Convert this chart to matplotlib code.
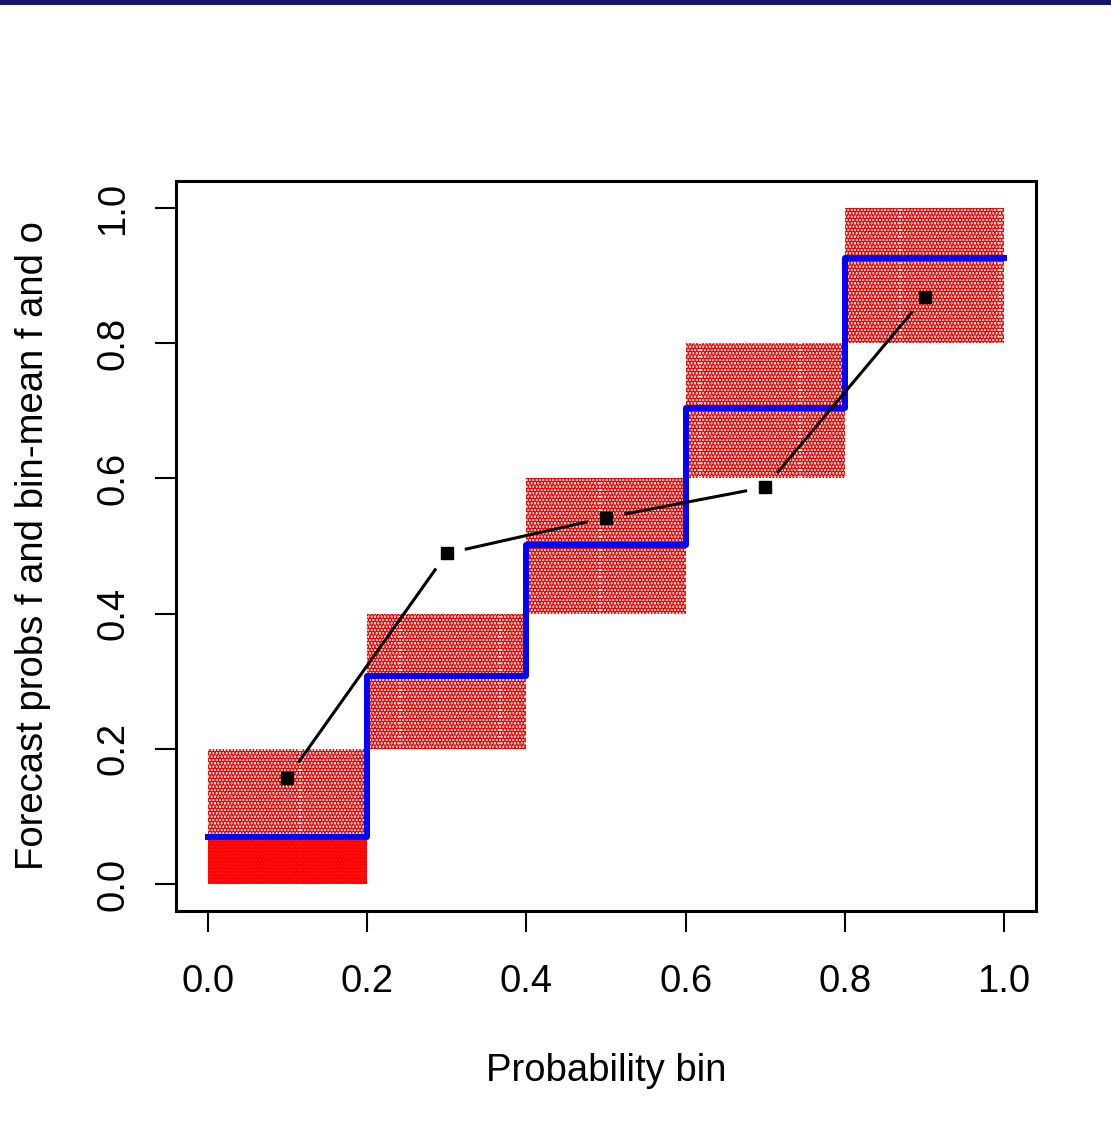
import numpy as np
import matplotlib
matplotlib.use('Agg')
import matplotlib.pyplot as plt
from matplotlib.patches import Rectangle

# bin edges and observed frequency per bin (blue steps)
bin_edges = [0.0, 0.2, 0.4, 0.6, 0.8, 1.0]
obs_freq = [0.069, 0.308, 0.501, 0.704, 0.926]
# bin centres and mean forecast per bin (black points)
bin_mid = [0.1, 0.3, 0.5, 0.7, 0.9]
mean_fc = [0.157, 0.489, 0.542, 0.587, 0.868]
# vertical extent of the red forecast cloud in each bin
cloud_lo = [0.0, 0.2, 0.4, 0.6, 0.8]
cloud_hi = [0.2, 0.4, 0.6, 0.8, 1.0]
dense_hi = [0.069, 0.2, 0.4, 0.6, 0.8]   # nearly solid part at the bottom of bin 1

ticks = [0.0, 0.2, 0.4, 0.6, 0.8, 1.0]
tick_labels = ['0.0', '0.2', '0.4', '0.6', '0.8', '1.0']

plt.rcParams['font.family'] = ['Liberation Sans', 'DejaVu Sans']
plt.rcParams['hatch.linewidth'] = 3.0

fig = plt.figure(figsize=(11.11, 11.26), dpi=100)
fig.patches.append(Rectangle((0, 1 - 5 / 1126), 1, 5 / 1126, transform=fig.transFigure,
                             facecolor='#16166b', edgecolor='none'))
ax = fig.add_axes([176 / 1111, 1 - 911 / 1126, 860 / 1111, 730 / 1126])
ax.set_xlim(-0.04, 1.04)
ax.set_ylim(-0.04, 1.04)

for i in range(len(bin_mid)):
    x0, x1 = bin_edges[i], bin_edges[i + 1]
    ax.add_patch(Rectangle((x0, cloud_lo[i]), x1 - x0, cloud_hi[i] - cloud_lo[i],
                           facecolor='none', edgecolor='red', linewidth=0,
                           hatch='.....', zorder=1))
    if dense_hi[i] > cloud_lo[i]:
        ax.add_patch(Rectangle((x0, cloud_lo[i]), x1 - x0, dense_hi[i] - cloud_lo[i],
                               facecolor='red', edgecolor='red', linewidth=0,
                               alpha=0.9, zorder=1))

# blue step line
ax.step(bin_edges, obs_freq + [obs_freq[-1]], where='post', color='blue', lw=4.3, zorder=3)

# black points joined by gapped lines (R type="b")
ax.plot(bin_mid, mean_fc, 's', color='black', markersize=8, zorder=4)
pts = ax.transData.transform(np.column_stack([bin_mid, mean_fc]))
gap = 20
inv = ax.transData.inverted()
for a, b in zip(pts[:-1], pts[1:]):
    d = b - a
    u = d / np.hypot(*d)
    seg = inv.transform(np.array([a + u * gap, b - u * gap]))
    ax.plot(seg[:, 0], seg[:, 1], color='black', lw=2.2, zorder=4)

ax.set_xticks(ticks)
ax.set_xticklabels(tick_labels)
ax.set_yticks(ticks)
ax.set_yticklabels(tick_labels, rotation=90, va='center')
ax.tick_params(labelsize=27.5, length=15, width=1.5, direction='out', pad=17)
ax.tick_params(axis='x', pad=23)
for s in ax.spines.values():
    s.set_linewidth(2.2)

ax.set_xlabel('Probability bin', fontsize=27.5, labelpad=38)
ax.set_ylabel('Forecast probs f and bin-mean f and o', fontsize=27.5, labelpad=32)

fig.savefig('out.png', dpi=100)
